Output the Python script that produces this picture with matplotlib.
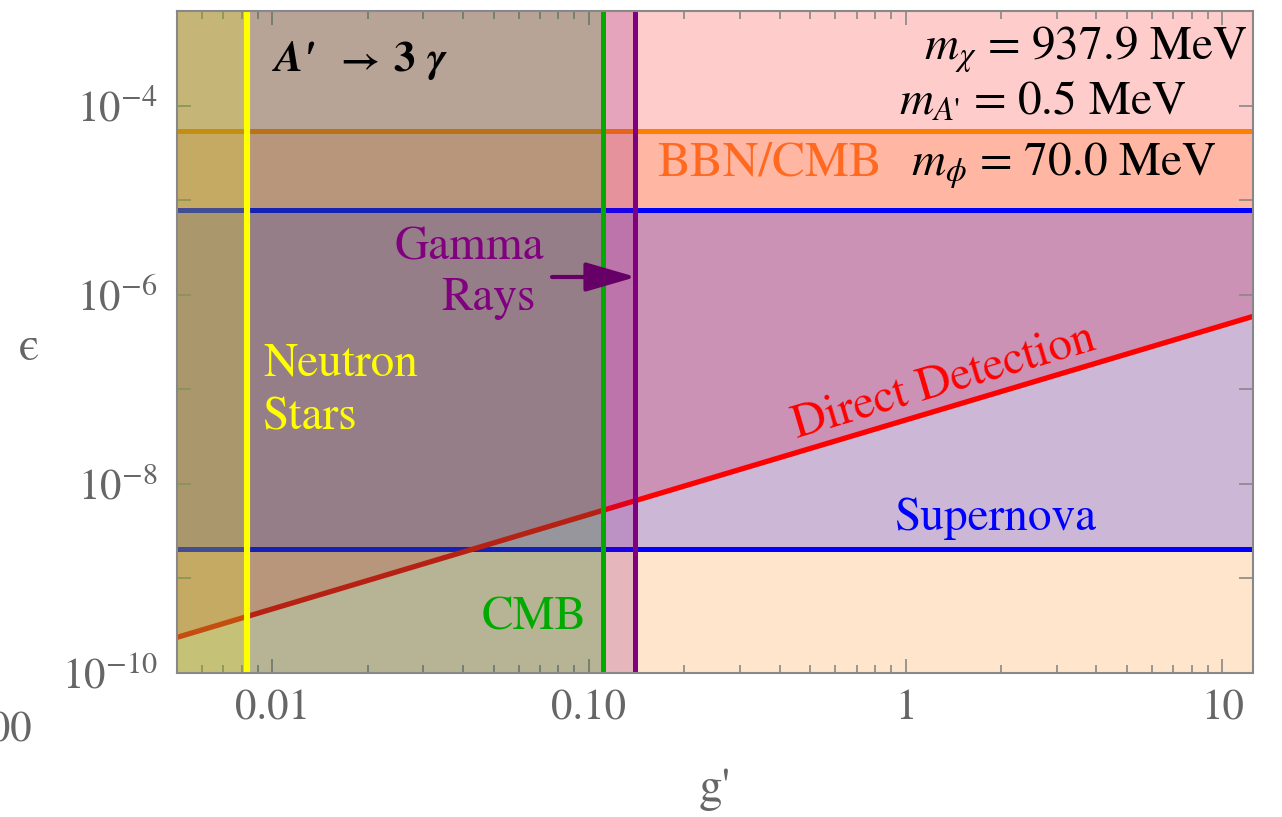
import matplotlib
matplotlib.use("Agg")
import matplotlib.pyplot as plt
from matplotlib.ticker import FixedLocator, FixedFormatter, LogLocator, NullFormatter

plt.rcParams['font.family'] = ['STIXGeneral', 'DejaVu Serif']
plt.rcParams['mathtext.fontset'] = 'stix'

# axis ranges
g_lim = [0.005, 12.5]
eps_lim = [1e-10, 1e-3]

# constraints
bbn_eps = 5.44e-5            # BBN/CMB, excluded below
sn_eps = [2.06e-9, 7.89e-6]  # Supernova band
dd_g = [0.005, 12.5]         # Direct detection line, excluded above
dd_eps = [2.38e-10, 5.9e-7]
gamma_g = 0.140              # Gamma rays, excluded to the left
cmb_g = 0.1104               # CMB, excluded to the left
ns_g = 0.00832               # Neutron stars, excluded to the left

x_ticks = [0.01, 0.1, 1, 10]
x_labels = ["0.01", "0.10", "1", "10"]
y_ticks = [1e-10, 1e-9, 1e-8, 1e-7, 1e-6, 1e-5, 1e-4, 1e-3]
y_labels = [r"$10^{-10}$", "", r"$10^{-8}$", "", r"$10^{-6}$", "", r"$10^{-4}$", ""]

W, H = 1282, 817
fig = plt.figure(figsize=(W / 100, H / 100), dpi=100)
ax_l, ax_r, ax_t, ax_b = 177, 1253, 11, 673
ax = fig.add_axes([ax_l / W, 1 - ax_b / H, (ax_r - ax_l) / W, (ax_b - ax_t) / H])
ax.set_xscale('log')
ax.set_yscale('log')
ax.set_xlim(g_lim)
ax.set_ylim(eps_lim)

orange = '#ff8000'
blue = '#0000ff'
red = '#ff0000'
purple = '#800080'
green = '#00aa00'
yellow = '#ffff00'
a = 0.2

# horizontal exclusions (under their lines)
ax.fill_between(g_lim, eps_lim[0], bbn_eps, color=orange, alpha=a, lw=0, zorder=1)
ax.fill_between(dd_g, dd_eps, eps_lim[1], color=red, alpha=a, lw=0, zorder=1)
ax.axhspan(sn_eps[0], sn_eps[1], color=blue, alpha=a, lw=0, zorder=1)
ax.axhline(bbn_eps, color=orange, lw=3.6, zorder=2)
for e in sn_eps:
    ax.axhline(e, color=blue, lw=3.6, zorder=2)
ax.plot(dd_g, dd_eps, color=red, lw=3.8, zorder=2, solid_capstyle='butt')

# vertical exclusions (on top)
ax.axvspan(g_lim[0], gamma_g, color=purple, alpha=a, lw=0, zorder=3)
ax.axvspan(g_lim[0], cmb_g, color=green, alpha=a, lw=0, zorder=3)
ax.axvspan(g_lim[0], ns_g, color=yellow, alpha=a, lw=0, zorder=3)
ax.axvline(gamma_g, color=purple, lw=3.6, zorder=4)
ax.axvline(cmb_g, color=green, lw=3.6, zorder=4)
ax.axvline(ns_g, color=yellow, lw=4.4, zorder=4)

# ticks
tick_gray = '#888888'
label_gray = '#666666'
ax.xaxis.set_major_locator(FixedLocator(x_ticks))
ax.xaxis.set_major_formatter(FixedFormatter(x_labels))
ax.xaxis.set_minor_locator(LogLocator(base=10, subs=[2, 3, 4, 5, 6, 7, 8, 9]))
ax.xaxis.set_minor_formatter(NullFormatter())
ax.yaxis.set_major_locator(FixedLocator(y_ticks))
ax.yaxis.set_major_formatter(FixedFormatter(y_labels))
ax.yaxis.set_minor_locator(FixedLocator([]))
ax.tick_params(which='both', direction='in', top=True, right=True, color=tick_gray,
               labelcolor=label_gray, labelsize=31, zorder=6)
ax.tick_params(which='major', length=10, width=1.2, pad=12)
ax.tick_params(which='minor', length=6, width=1.2)
ax.tick_params(axis='y', pad=14)
for s in ax.spines.values():
    s.set_color(tick_gray)
    s.set_linewidth(1.5)
    s.set_zorder(7)

ax.set_xlabel("g'", fontsize=34, color=label_gray, va='baseline')
ax.xaxis.set_label_coords(0.5, -0.193)
ax.set_ylabel("ϵ", fontsize=34, color=label_gray, rotation=0, va='center')
ax.yaxis.set_label_coords(-0.137, 0.49)


def P(x, y):
    return ((x - ax_l) / (ax_r - ax_l), (ax_b - y) / (ax_b - ax_t))


def put(x, y, s, **kw):
    kw.setdefault('va', 'baseline')
    kw.setdefault('fontsize', 34)
    ax.text(*P(x, y), s, transform=ax.transAxes, zorder=8, **kw)


# A' -> 3 gamma, set piece by piece to keep the wide spacing
put(275, 71, "A'", fontsize=31, fontweight='bold', fontstyle='italic', color='black')
put(340, 71, "→", fontsize=29, fontweight='bold', color='black')
put(393, 71, "3", fontsize=31, fontweight='bold', color='black')
put(427, 71, "γ", fontsize=31, fontweight='bold', fontstyle='italic', color='black')

put(1247, 60, r"$m_\chi$ = 937.9 MeV", ha='right', fontsize=34, color='black')
put(1186, 115, r"$m_{A\text{'}}$ = 0.5 MeV", ha='right', fontsize=34, color='black')
put(1216, 176, r"$m_\phi$ = 70.0 MeV", ha='right', fontsize=34, color='black')
put(657, 176, "BBN/CMB", fontsize=35.5, color='#ff6a20')
put(395, 260, "Gamma", color=purple)
put(441, 310, "Rays", color=purple)
put(263, 375, "Neutron", color=yellow)
put(263, 430, "Stars", color=yellow)
put(947, 393, "Direct Detection", ha='center', rotation=16.5, rotation_mode='anchor', color=red)
put(895, 530, "Supernova", color=blue)
put(482, 630, "CMB", color=green)

ax.annotate("", xy=P(636, 277), xytext=P(552, 277), xycoords='axes fraction',
            textcoords='axes fraction', zorder=8,
            arrowprops=dict(arrowstyle='-|>,head_length=1.55,head_width=0.45',
                            mutation_scale=20, color='#660066', lw=3,
                            shrinkA=0, shrinkB=0))

# clipped tick label from a neighbouring panel
fig.text(32 / W, 1 - 742 / H, "1000", ha='right', va='baseline', fontsize=31, color=label_gray)

fig.savefig("out.png", dpi=100)
